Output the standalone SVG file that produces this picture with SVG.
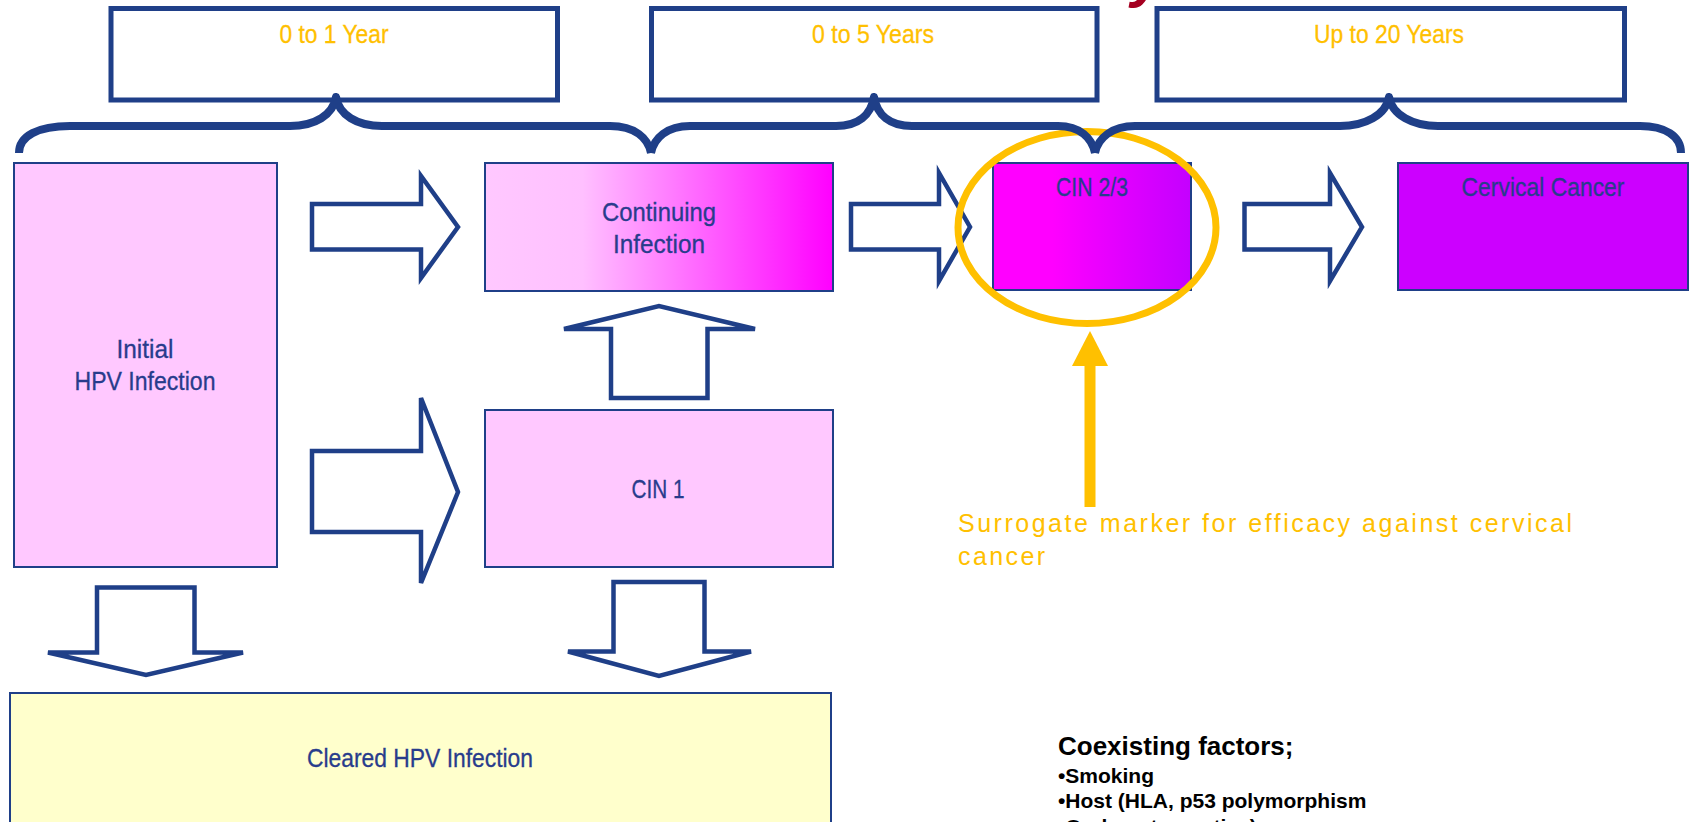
<svg xmlns="http://www.w3.org/2000/svg" width="1690" height="822" viewBox="0 0 1690 822">
<defs>
<style>
.frame{fill:#FFFFFF;stroke:#1F3F88;stroke-width:5}
.box{stroke:#1F3F88;stroke-width:2}
.arrow{fill:#FFFFFF;stroke:#1F3F88;stroke-width:4.5;stroke-linejoin:miter}
.brace{fill:none;stroke:#1F3F88;stroke-width:8;stroke-linejoin:round;stroke-linecap:butt}
.lbl{font-family:"Liberation Sans Narrow","Liberation Sans",Arial,sans-serif;font-size:26px;fill:#283C8C;text-anchor:middle;stroke:#283C8C;stroke-width:0.3}
.yr{font-family:"Liberation Sans Narrow","Liberation Sans",Arial,sans-serif;font-size:26px;fill:#FFC000;text-anchor:middle;stroke:#FFC000;stroke-width:0.3}
.sur{font-family:"Liberation Sans",Arial,sans-serif;font-size:25px;fill:#FFC000}
.co{font-family:"Liberation Sans",Arial,sans-serif;font-weight:bold;fill:#000000}
</style>
<linearGradient id="gCont" x1="0" y1="0" x2="1" y2="0">
<stop offset="0" stop-color="#FFC8FF"/>
<stop offset="0.28" stop-color="#FFC0FF"/>
<stop offset="1" stop-color="#FF00FF"/>
</linearGradient>
<linearGradient id="gCin23" x1="0" y1="0" x2="1" y2="0">
<stop offset="0" stop-color="#FF00FF"/>
<stop offset="0.3" stop-color="#FF00FF"/>
<stop offset="1" stop-color="#C400FF"/>
</linearGradient>
</defs>
<rect width="1690" height="822" fill="#FFFFFF"/>

<text x="1131" y="-4" font-family="Liberation Sans,Arial,sans-serif" font-size="60" font-weight="bold" font-style="italic" fill="#A50021">y</text>

<g id="period-1">
<rect class="frame" x="111" y="8.5" width="446.5" height="91.5"/>
<text class="yr" x="334" y="43" textLength="109" lengthAdjust="spacingAndGlyphs">0 to 1 Year</text>
</g>
<g id="period-2">
<rect class="frame" x="651.5" y="8.5" width="445.5" height="91.5"/>
<text class="yr" x="873" y="43" textLength="122" lengthAdjust="spacingAndGlyphs">0 to 5 Years</text>
</g>
<g id="period-3">
<rect class="frame" x="1157" y="8.5" width="467.5" height="91.5"/>
<text class="yr" x="1389" y="43" textLength="150" lengthAdjust="spacingAndGlyphs">Up to 20 Years</text>
</g>

<g id="initial">
<rect class="box" x="14" y="163" width="263" height="404" fill="#FFC8FF"/>
<text class="lbl" x="145" y="358" textLength="57" lengthAdjust="spacingAndGlyphs">Initial</text>
<text class="lbl" x="145" y="390" textLength="141" lengthAdjust="spacingAndGlyphs">HPV Infection</text>
</g>
<g id="continuing">
<rect class="box" x="485" y="163" width="348" height="128" fill="url(#gCont)"/>
<text class="lbl" x="659" y="221" textLength="114" lengthAdjust="spacingAndGlyphs">Continuing</text>
<text class="lbl" x="659" y="253" textLength="92" lengthAdjust="spacingAndGlyphs">Infection</text>
</g>
<g id="cin1">
<rect class="box" x="485" y="410" width="348" height="157" fill="#FFC8FF"/>
<text class="lbl" x="658" y="498" textLength="53" lengthAdjust="spacingAndGlyphs">CIN 1</text>
</g>
<g id="cin23">
<rect class="box" x="993" y="163" width="198" height="127" fill="url(#gCin23)"/>
<text class="lbl" x="1092" y="196" textLength="72" lengthAdjust="spacingAndGlyphs">CIN 2/3</text>
</g>
<g id="cancer">
<rect class="box" x="1398" y="163" width="290" height="127" fill="#CC00FF"/>
<text class="lbl" x="1543" y="196" textLength="163" lengthAdjust="spacingAndGlyphs">Cervical Cancer</text>
</g>
<g id="cleared">
<rect class="box" x="10" y="693" width="821" height="150" fill="#FFFFCC"/>
<text class="lbl" x="420" y="767" textLength="226" lengthAdjust="spacingAndGlyphs">Cleared HPV Infection</text>
</g>

<g id="connectors">
<polygon class="arrow" points="312,204 421,204 421,176 458,227 421,278 421,249.5 312,249.5"/>
<polygon class="arrow" points="312,451 421,451 421,398 458,492 421,583 421,532 312,532"/>
<polygon class="arrow" points="611,398 611,329 564,329 659,306 755,329 707.5,329 707.5,398"/>
<polygon class="arrow" points="851,204 939,204 939,173 970,227 939,281 939,249.5 851,249.5"/>
<polygon class="arrow" points="1244.5,204 1330,204 1330,173 1362,227 1330,281 1330,249.5 1244.5,249.5"/>
<polygon class="arrow" points="97,587.5 194.5,587.5 194.5,652.5 243,652.5 146,675 48,652.5 97,652.5"/>
<polygon class="arrow" points="613.5,582 704.5,582 704.5,651.5 751,651.5 659,676 568,651.5 613.5,651.5"/>
</g>

<g id="surrogate-marker">
<ellipse cx="1087" cy="227.5" rx="129" ry="96" fill="none" stroke="#FFC000" stroke-width="7"/>
<rect x="1084.5" y="365" width="11" height="142" fill="#FFC000"/>
<polygon points="1072,366 1090,331 1108,366" fill="#FFC000"/>
<text class="sur" x="958" y="532" textLength="614" lengthAdjust="spacing">Surrogate marker for efficacy against cervical</text>
<text class="sur" x="958" y="565" textLength="87" lengthAdjust="spacing">cancer</text>
</g>

<g id="braces">
<path class="brace" d="M19,153 C19,136 38,126 70,126 L290,126 C315,126 333,115 336,97 C339,115 357,126 382,126 L610,126 C635,126 648,138 651,153"/>
<path class="brace" d="M651,153 C654,138 667,126 690,126 L836,126 C858,126 871,115 874,97 C877,115 890,126 912,126 L1058,126 C1080,126 1092,138 1095,153"/>
<path class="brace" d="M1095,153 C1098,138 1112,126 1135,126 L1340,126 C1365,126 1386,115 1389,97 C1392,115 1413,126 1438,126 L1640,126 C1665,126 1681,136 1681,153"/>
</g>

<g id="coexisting-factors">
<text class="co" x="1058" y="755" font-size="26">Coexisting factors;</text>
<text class="co" x="1058" y="783" font-size="21">•Smoking</text>
<text class="co" x="1058" y="808" font-size="21">•Host (HLA, p53 polymorphism</text>
<text class="co" x="1058" y="834" font-size="21">•Oral contraceptive)use</text>
</g>
</svg>
